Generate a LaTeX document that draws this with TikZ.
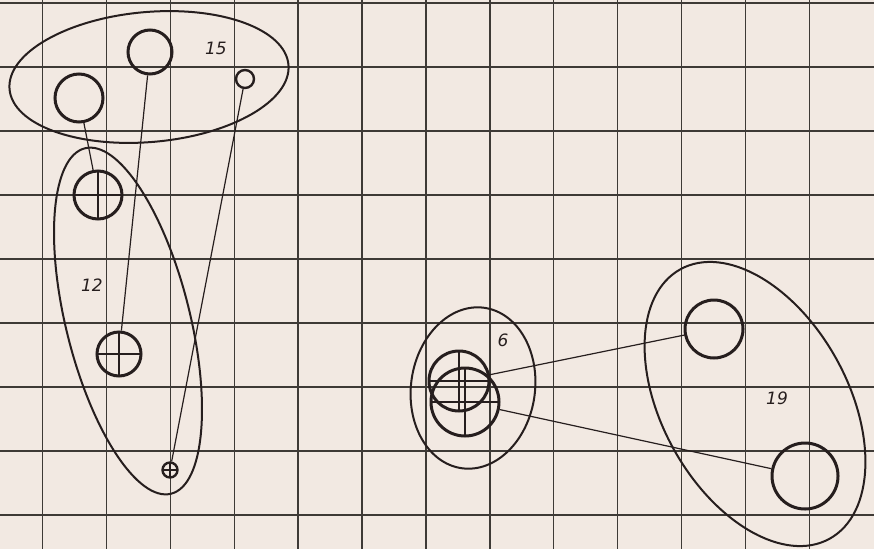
\documentclass[tikz,border=0pt]{standalone}
\usepackage{fontspec}
\usepackage{tikz}
\usetikzlibrary{positioning}
\newfontfamily\handfont{DejaVu Sans}
\definecolor{paper}{RGB}{242,233,226}
\definecolor{ink}{RGB}{38,30,30}
\definecolor{rule}{RGB}{62,58,54}

\begin{document}
\begin{tikzpicture}[
                x=1pt, y=-1pt,
                font=\handfont\itshape\fontsize{17}{20}\selectfont,
                gridline/.style={draw=rule, line width=1.4pt},
                blob/.style={draw=ink, line width=2pt},
                ring/.style={circle, draw=ink, line width=3pt, inner sep=0pt},
                crossed/.style={ring, path picture={\draw[ink, line width=2.2pt] (path picture bounding box.north) -- (path picture bounding box.south) (path picture bounding box.west) -- (path picture bounding box.east);}},
                link/.style={draw=ink, line width=1.2pt},
                tag/.style={text=ink, inner sep=0pt}
            ]

                % --- PAPIER ---
                \fill[paper] (0,0) rectangle (874,549);
                \useasboundingbox (0,0) rectangle (874,549);

                % --- RASTER ---
                \foreach \gx in {0,...,12}
                    \draw[gridline] ({42.5+63.9*\gx},0) -- ++(0,549);
                \foreach \gy in {0,...,8}
                    \draw[gridline] (0,{3+64*\gy}) -- ++(874,0);

                % --- GRUPPE 15 ---
                \draw[blob, rotate around={5:(149,77)}] (149,77) ellipse [x radius=140pt, y radius=65pt];
                \node[ring, minimum size=48] (c15a) at (79,98) {};
                \node[ring, minimum size=44] (c15b) at (150,52) {};
                \node[ring, minimum size=18, line width=2.4pt] (c15c) at (245,79) {};
                \node[tag] (t15) at (216,48) {15};

                % --- GRUPPE 12 ---
                \draw[blob, rotate around={-76:(128,321)}] (128,321) ellipse [x radius=178pt, y radius=62pt];
                \node[crossed, minimum size=48] (c12a) at (98,195) {};
                \node[crossed, minimum size=44] (c12b) at (119,354) {};
                \node[crossed, minimum size=15, line width=2.4pt] (c12c) at (170,470) {};
                \node[tag] (t12) at (92,285) {12};

                % --- GRUPPE 6 ---
                \draw[blob, rotate around={-8:(473,388)}] (473,388) ellipse [x radius=62pt, y radius=81pt];
                \node[crossed, minimum size=60] (c6a) at (459,381) {};
                \node[crossed, minimum size=68] (c6b) at (465,402) {};
                \node[tag] (t6) at (503,340) {6};

                % --- GRUPPE 19 ---
                \draw[blob, rotate around={-61:(755,404)}] (755,404) ellipse [x radius=154pt, y radius=93pt];
                \node[ring, minimum size=58] (c19a) at (714,329) {};
                \node[ring, minimum size=66] (c19b) at (805,476) {};
                \node[tag] (t19) at (777,398) {19};

                % --- VERBINDUNGEN ---
                \draw[link] (c15a) -- (c12a);
                \draw[link] (c15b) -- (c12b);
                \draw[link] (c15c) -- (c12c);
                \draw[link] (c6a) -- (c19a);
                \draw[link] (c6b) -- (c19b);

            \end{tikzpicture}
\end{document}
